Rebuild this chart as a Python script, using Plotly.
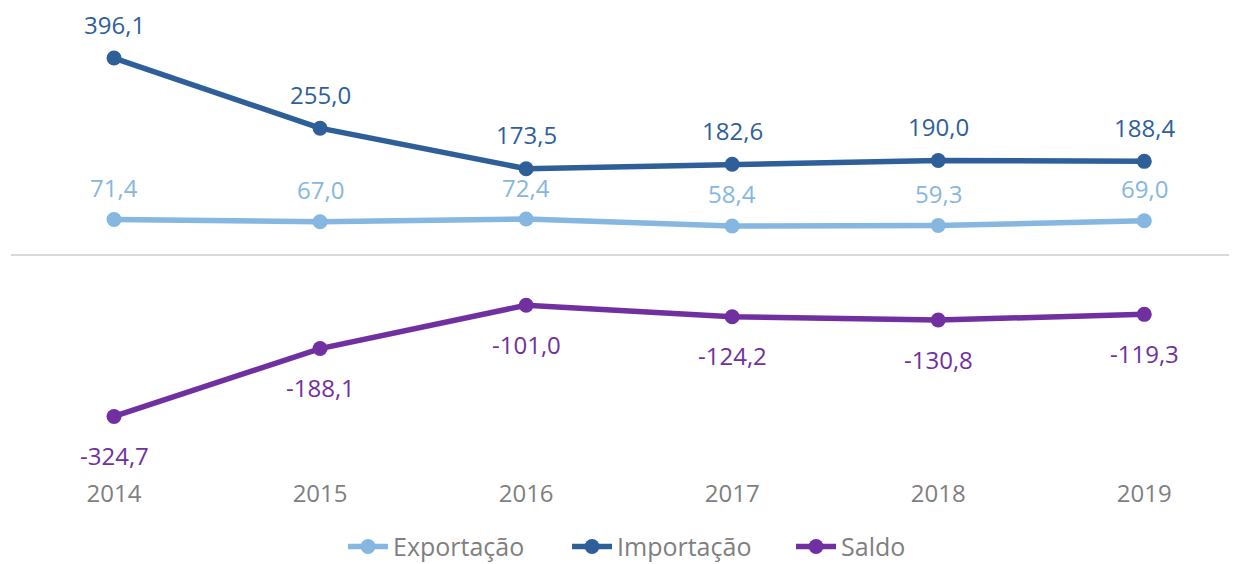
import plotly.graph_objects as go

years = ["2014", "2015", "2016", "2017", "2018", "2019"]
exportacao = [71.4, 67.0, 72.4, 58.4, 59.3, 69.0]
importacao = [396.1, 255.0, 173.5, 182.6, 190.0, 188.4]
saldo = [-324.7, -188.1, -101.0, -124.2, -130.8, -119.3]

c_exp = "#85B7E0"
c_imp = "#2E5F99"
c_sal = "#7030A0"
font_family = "Open Sans, Noto Sans, sans-serif"

fig = go.Figure()
annotations = []
for name, vals, col, shift in [
    ("Exportação", exportacao, c_exp, 32),
    ("Importação", importacao, c_imp, 34),
    ("Saldo", saldo, c_sal, -39),
]:
    fig.add_trace(go.Scatter(
        x=years, y=vals, name=name, mode="lines+markers",
        line=dict(color=col, width=5.5),
        marker=dict(color=col, size=15),
        cliponaxis=False,
    ))
    for i, v in enumerate(vals):
        annotations.append(dict(
            x=i, y=v, xref="x", yref="y", text=f"{v:.1f}".replace(".", ","),
            showarrow=False, yshift=shift, xanchor="center", yanchor="middle",
            font=dict(color=col, size=24, family=font_family), borderpad=0,
        ))

fig.update_layout(
    width=1229, height=556,
    margin=dict(l=3, r=0, t=12, b=87),
    plot_bgcolor="white", paper_bgcolor="white",
    font=dict(family=font_family, color="#808080", size=22),
    xaxis=dict(type="category", range=[-0.5, 5.45], showgrid=False, showline=False,
               zeroline=False, ticks="", tickfont=dict(size=24, color="#7F7F7F")),
    yaxis=dict(range=[-446.4, 472.6], showgrid=False, showticklabels=False,
               zeroline=True, zerolinecolor="#D9D9D9", zerolinewidth=2),
    annotations=annotations,
    showlegend=True,
    legend=dict(orientation="h", xref="container", yref="container",
                x=0.546, y=0.031, xanchor="center", yanchor="middle",
                font=dict(size=25, color="#7F7F7F"), itemwidth=40,
                entrywidth=169),
)

fig.write_html("out.html")
